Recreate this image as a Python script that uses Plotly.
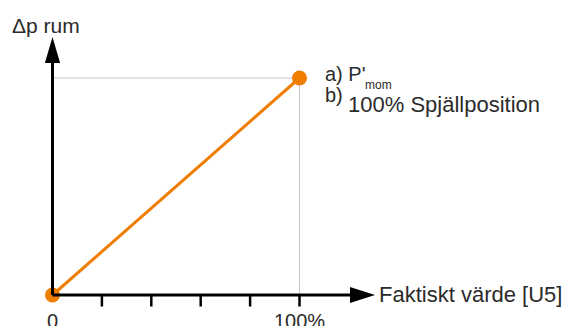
import plotly.graph_objects as go

# Characteristic: room differential pressure vs actual value [U5]
x_values = [0, 100]          # Faktiskt värde [U5], %
y_values = [0, 100]          # Δp rum, % of P'mom
x_ticks = [20, 40, 60, 80, 100]
x_tick_labels = {0: "0", 100: "100%"}

ORANGE = "#EF7D00"
TEXT = "#2b2b2b"
GUIDE = "#c4c4c4"
FONT = "Liberation Sans, Arial, sans-serif"

W, H = 564, 326
# pixel placement of the origin and of the 100 % point
PX0, PX100 = 52.5, 299.5
PY0, PY100 = 295.0, 78.0
sx = (PX100 - PX0) / 100.0
sy = (PY0 - PY100) / 100.0


def dx(px):
    return (px - PX0) / sx


def dy(py):
    return (PY0 - py) / sy


fig = go.Figure()

shapes = []
# guide lines to the end point
shapes.append(dict(type="line", x0=0, x1=x_values[1], y0=y_values[1], y1=y_values[1],
                   line=dict(color=GUIDE, width=1), layer="below"))
shapes.append(dict(type="line", x0=x_values[1], x1=x_values[1], y0=0, y1=y_values[1],
                   line=dict(color=GUIDE, width=1), layer="below"))

# axes with arrow heads
y_tip, y_base = dy(37), dy(63)
x_tip, x_base = dx(375), dx(350)
hw = 7.6 / sx
hh = 8.0 / sy
shapes.append(dict(type="line", x0=0, x1=0, y0=0, y1=y_base + 1,
                   line=dict(color="black", width=3)))
shapes.append(dict(type="line", x0=0, x1=x_base + 1, y0=0, y1=0,
                   line=dict(color="black", width=3)))
shapes.append(dict(type="path",
                   path=f"M {-hw} {y_base} L {hw} {y_base} L 0 {y_tip} Z",
                   fillcolor="black", line=dict(color="black", width=0)))
shapes.append(dict(type="path",
                   path=f"M {x_base} {-hh} L {x_base} {hh} L {x_tip} 0 Z",
                   fillcolor="black", line=dict(color="black", width=0)))

# tick marks below the x axis
tick_len = 11.5 / sy
for t in x_ticks:
    shapes.append(dict(type="line", x0=t, x1=t, y0=0, y1=-tick_len,
                       line=dict(color="black", width=2.5)))

fig.add_trace(go.Scatter(
    x=x_values, y=y_values, mode="lines+markers",
    line=dict(color=ORANGE, width=3),
    marker=dict(color=ORANGE, size=15),
    hoverinfo="skip", showlegend=False, cliponaxis=False,
))

annotations = []
for v, lab in x_tick_labels.items():
    annotations.append(dict(x=v, y=dy(308), text=lab, showarrow=False,
                            xanchor="center", yanchor="top",
                            font=dict(size=20, color=TEXT, family=FONT)))

annotations.append(dict(x=dx(10), y=dy(25), text="Δp rum", showarrow=False,
                        xanchor="left", yanchor="middle",
                        font=dict(size=21, color=TEXT, family=FONT)))
annotations.append(dict(x=dx(377), y=dy(294), text="Faktiskt värde [U5]", showarrow=False,
                        xanchor="left", yanchor="middle",
                        font=dict(size=22, color=TEXT, family=FONT)))
annotations.append(dict(x=dx(323), y=dy(74), text="a) P'", showarrow=False,
                        xanchor="left", yanchor="middle",
                        font=dict(size=20, color=TEXT, family=FONT)))
annotations.append(dict(x=dx(363), y=dy(85), text="mom", showarrow=False,
                        xanchor="left", yanchor="middle",
                        font=dict(size=12, color=TEXT, family=FONT)))
annotations.append(dict(x=dx(323), y=dy(95), text="b)", showarrow=False,
                        xanchor="left", yanchor="middle",
                        font=dict(size=20, color=TEXT, family=FONT)))
annotations.append(dict(x=dx(346), y=dy(104), text="100% Spjällposition", showarrow=False,
                        xanchor="left", yanchor="middle",
                        font=dict(size=22, color=TEXT, family=FONT)))

fig.update_layout(
    width=W, height=H,
    margin=dict(l=0, r=0, t=0, b=0),
    paper_bgcolor="white", plot_bgcolor="white",
    xaxis=dict(range=[dx(0), dx(W)], visible=False, fixedrange=True),
    yaxis=dict(range=[dy(H), dy(0)], visible=False, fixedrange=True),
    shapes=shapes, annotations=annotations,
)

fig.write_html("out.html")
